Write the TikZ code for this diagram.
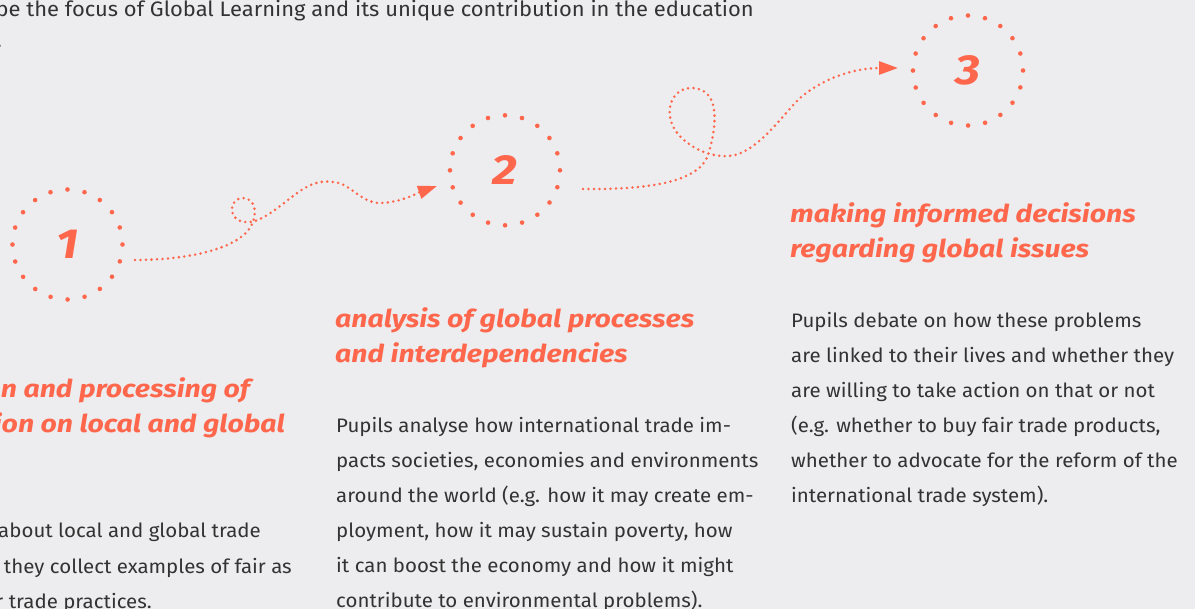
\documentclass[tikz,border=0pt]{standalone}
\usepackage{fontspec}
\setmainfont{Fira Sans}[FakeStretch=1.05]
\newfontfamily\headfont{Fira Sans}[FakeStretch=1.16]
\usetikzlibrary{arrows.meta}
\definecolor{bg}{HTML}{EDECEE}
\definecolor{accent}{HTML}{FF674D}
\definecolor{ink}{HTML}{333333}

\begin{document}
\begin{tikzpicture}[x=1pt,y=-1pt,
  stepcircle/.style={circle, minimum size=110pt, inner sep=0pt, draw=accent,
    line width=4.6pt, line cap=round, dash pattern=on 0pt off 17.2788pt,
    text=accent, font=\headfont\fontsize{42}{42}\selectfont\bfseries\itshape},
  trail/.style={draw=accent, line width=2.8pt, line cap=round,
    dash pattern=on 0pt off 5.5pt, -{Triangle[length=19pt,width=13pt]}},
  body/.style={inner sep=0pt, text=ink, font=\fontsize{19.5}{19.5}\selectfont},
  intro/.style={inner sep=0pt, text=ink, font=\fontsize{20.9}{20.9}\selectfont},
  head/.style={inner sep=0pt, text=accent, font=\headfont\fontsize{24.5}{24.5}\selectfont\bfseries\itshape}]

\fill[bg] (0,0) rectangle (1195,609);
\useasboundingbox (0,0) rectangle (1195,609);

% introductory sentence running in from the left
\node[intro, anchor=base east] (intro1) at (754,17) {Here we describe the focus of Global Learning and its unique contribution in the education};
\node[intro, anchor=base east] (intro2) at (2,48) {sector.};

% the three steps
\node[stepcircle] (n1) at (67.5,244.5) {1};
\node[stepcircle] (n2) at (505,170.3) {2};
\node[stepcircle] (n3) at (968,70.5) {3};

% loose ends of the dotted trails
\coordinate (s1) at (135,260);
\coordinate (e1) at (437,186);
\coordinate (s2) at (583,189);
\coordinate (e2) at (898,68);

\draw[trail] (s1) .. controls (185,260) and (235,250) .. (250,228)
  .. controls (258,216) and (256,198) .. (243,198)
  .. controls (231,198) and (228,214) .. (238,220)
  .. controls (246,224) and (255,222) .. (262,218)
  .. controls (290,203) and (305,178) .. (332,182)
  .. controls (350,182) and (360,203) .. (380,203)
  .. controls (400,203) and (420,192) .. (e1);

\draw[trail] (s2) .. controls (655,190) and (700,180) .. (708,155)
  .. controls (716,130) and (722,90) .. (693,88)
  .. controls (670,87) and (662,115) .. (678,134)
  .. controls (692,150) and (712,157) .. (728,156)
  .. controls (752,156) and (778,122) .. (795,103)
  .. controls (815,82) and (850,68) .. (e2);

% column 1
\node[head, anchor=base east] (h1a) at (250,398) {collection and processing of};
\node[head, anchor=base east] (h1b) at (285,433) {information on local and global};
\node[head, anchor=base east] (h1c) at (-20,468) {trade};
\node[body, anchor=base east] (b1a) at (261,538) {Pupils learn about local and global trade};
\node[body, anchor=base east] (b1b) at (292,573) {structures and they collect examples of fair as};
\node[body, anchor=base east] (b1c) at (152,608) {well as unfair trade practices.};

% column 2
\node[head, anchor=base west] (h2a) at (335,328) {analysis of global processes};
\node[head, anchor=base west] (h2b) at (335,363) {and interdependencies};
\foreach \t [count=\i from 0] in {
  {Pupils analyse how international trade im-},
  {pacts societies, economies and environments},
  {around the world (e.g. how it may create em-},
  {ployment, how it may sustain poverty, how},
  {it can boost the economy and how it might},
  {contribute to environmental problems).}}
  \node[body, anchor=base west, name=b2l\i] at (336,{433+34.9*\i}) {\t};

% column 3
\node[head, anchor=base west] (h3a) at (790,223) {making informed decisions};
\node[head, anchor=base west] (h3b) at (790,258) {regarding global issues};
\foreach \t [count=\i from 0] in {
  {Pupils debate on how these problems},
  {are linked to their lives and whether they},
  {are willing to take action on that or not},
  {(e.g. whether to buy fair trade products,},
  {whether to advocate for the reform of the},
  {international trade system).}}
  \node[body, anchor=base west, name=b3l\i] at (791,{328+35*\i}) {\t};

\end{tikzpicture}
\end{document}
